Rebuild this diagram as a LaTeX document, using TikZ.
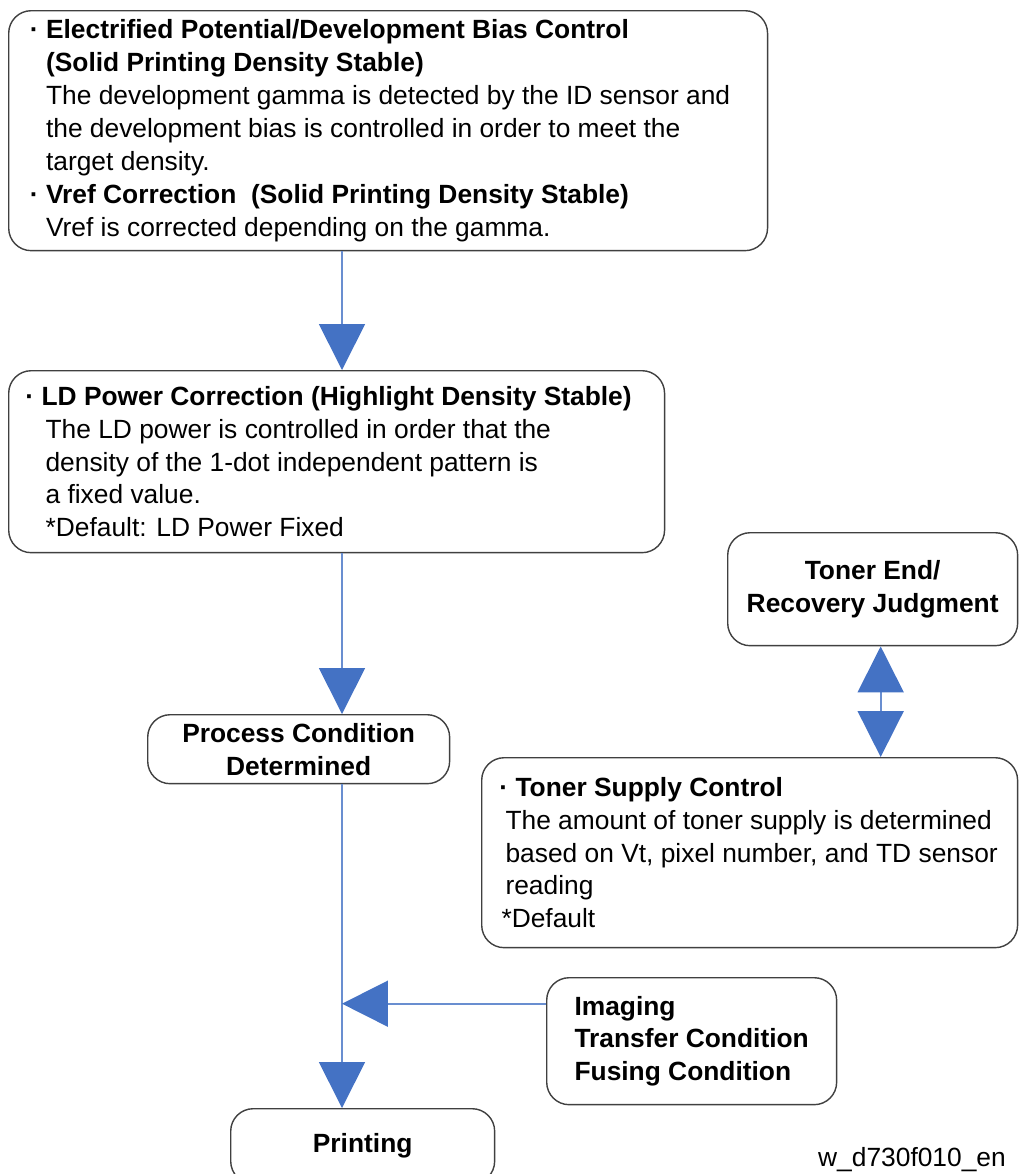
\documentclass[tikz,border=0pt]{standalone}
\usepackage{fontspec}
\setmainfont{Liberation Sans}
\usetikzlibrary{arrows.meta}
\definecolor{flowblue}{RGB}{68,114,196}
\newcommand{\bul}{\llap{\textbf{·}\ }}

\begin{document}
\begin{tikzpicture}[
    x=0.02cm, y=-0.02cm,
    >={Triangle[length=0.92cm, width=0.92cm, color=flowblue]},
    box/.style={rectangle, draw=black!75, line width=0.8pt, rounded corners=0.45cm, anchor=north west, inner sep=0pt, align=left, font=\fontsize{15}{18.7}\selectfont},
    title/.style={box, align=center, font=\fontsize{15}{18.7}\selectfont\bfseries},
    flow/.style={draw=flowblue!80, line width=1pt}
]
\useasboundingbox (0,0) rectangle (1019,1174);

% Control steps
\node[box, minimum width=15.18cm, minimum height=4.8cm] (bias) at (8,10) {
\bul\textbf{Electrified Potential/Development Bias Control}\\
\textbf{(Solid Printing Density Stable)}\\
The development gamma is detected by the ID sensor and\\
the development bias is controlled in order to meet the\\
target density.\\
\bul\textbf{Vref Correction\ \ (Solid Printing Density Stable)}\\
Vref is corrected depending on the gamma.
};

\node[box, minimum width=13.12cm, minimum height=3.64cm] (ldpower) at (8,370) {
\bul\textbf{LD Power Correction (Highlight Density Stable)}\\
\hspace*{0.08cm}The LD power is controlled in order that the\\
\hspace*{0.08cm}density of the 1-dot independent pattern is\\
\hspace*{0.08cm}a fixed value.\\
\hspace*{0.08cm}*Default: LD Power Fixed
};

\node[title, minimum width=6.04cm, minimum height=1.38cm] (process) at (147,714) {Process Condition\\Determined};

% Toner
\node[title, minimum width=5.8cm, minimum height=2.26cm] (tonerend) at (727,532) {Toner End/\\Recovery Judgment};

\node[box, minimum width=10.72cm, minimum height=3.8cm] (supply) at (481,757) {
\hspace*{0.28cm}\bul\textbf{Toner Supply Control}\\
\hspace*{0.08cm}The amount of toner supply is determined\\
\hspace*{0.08cm}based on Vt, pixel number, and TD sensor\\
\hspace*{0.08cm}reading\\
*Default
};

% Other conditions
\node[box, font=\fontsize{15}{18.7}\selectfont\bfseries, minimum width=5.8cm, minimum height=2.54cm] (imaging) at (546,977) {Imaging\\Transfer Condition\\Fusing Condition};

\node[title, minimum width=5.28cm, minimum height=1.5cm] (printing) at (230,1108) {Printing};

\node[font=\fontsize{15}{18.7}\selectfont, anchor=east] (figid) at (1012,1160) {w\_d730f010\_en};

% Flow
\coordinate (spine) at (342,0);
\draw[flow, ->] (bias.south -| spine) -- (ldpower.north -| spine);
\draw[flow, ->] (ldpower.south -| spine) -- (process.north -| spine);
\draw[flow, ->] (process.south -| spine) -- (printing.north -| spine);
\draw[flow, ->] ([yshift=0.75cm]imaging.west) coordinate (imgin) -- (imgin -| spine);
\draw[flow, <->] ([xshift=0.16cm]tonerend.south) coordinate (tedown) -- (tedown |- supply.north);

\end{tikzpicture}
\end{document}
